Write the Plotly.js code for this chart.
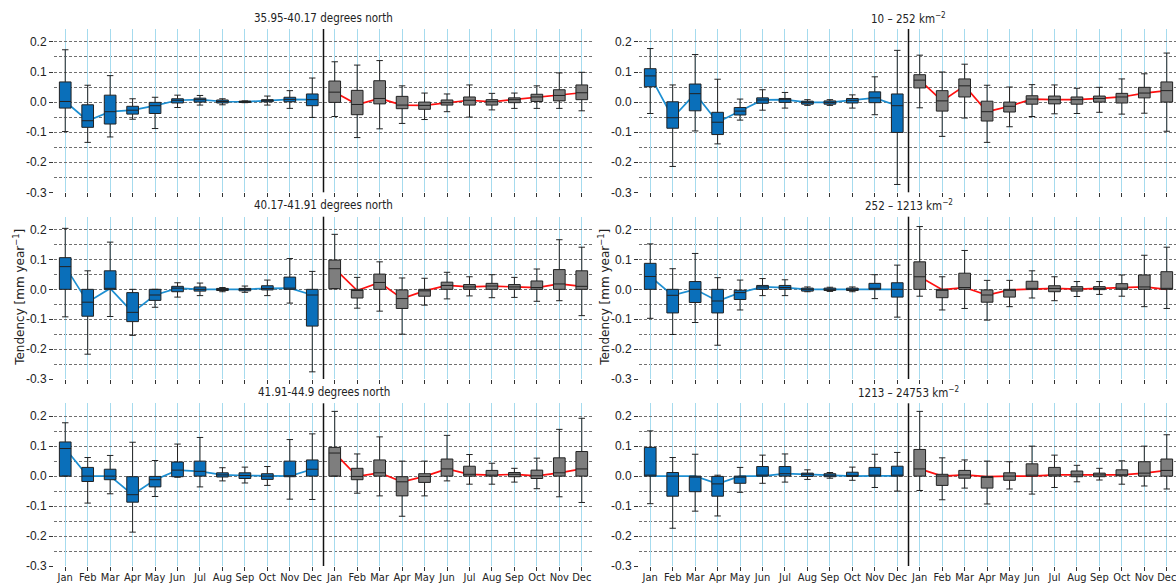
<!DOCTYPE html>
<html>
<head>
<meta charset="utf-8">
<script src="https://cdn.plot.ly/plotly-3.0.1.min.js"></script>
<style>
html, body { margin: 0; padding: 0; overflow: hidden; background: #fff; }
#chart { width: 1190px; height: 585px; }
</style>
</head>
<body>
<div id="chart"></div>
<script>
// ---------- categories / ticks ----------
const months = ['Jan','Feb','Mar','Apr','May','Jun','Jul','Aug','Sep','Oct','Nov','Dec'];
const blueX = [1,2,3,4,5,6,7,8,9,10,11,12];
const grayX = [13,14,15,16,17,18,19,20,21,22,23,24];
const yTickVals = [-0.3,-0.2,-0.1,0.0,0.1,0.2];
const yTickText = ['-0.3','-0.2','-0.1','0.0','0.1','0.2'];
const yMinorVals = [-0.25,-0.15,-0.05,0.05,0.15];

const panelTitles = ['35.95-40.17 degrees north', '10 – 252 km<sup>−2</sup>',
                     '40.17-41.91 degrees north', '252 – 1213 km<sup>−2</sup>',
                     '41.91-44.9 degrees north', '1213 – 24753 km<sup>−2</sup>'];
const yTitle = 'Tendency [mm year<sup>−1</sup>]';

// ---------- Panel 1: 35.95-40.17 degrees north ----------
const p1BlueLo  = [-0.098,-0.134,-0.116,-0.057,-0.088,-0.018,-0.010,-0.009,-0.002,-0.010,-0.021,-0.051];
const p1BlueQ1  = [-0.020,-0.084,-0.073,-0.040,-0.038,-0.003,0.000,-0.003,-0.001,0.001,0.001,-0.012];
const p1BlueMed = [0.002,-0.062,-0.032,-0.027,-0.012,0.006,0.008,0.002,0.001,0.005,0.009,0.008];
const p1BlueQ3  = [0.067,-0.009,0.023,-0.014,-0.001,0.011,0.013,0.007,0.003,0.008,0.016,0.027];
const p1BlueHi  = [0.174,0.056,0.088,0.011,0.016,0.023,0.022,0.011,0.004,0.020,0.038,0.080];
const p1GrayLo  = [-0.048,-0.118,-0.089,-0.071,-0.058,-0.032,-0.050,-0.026,-0.021,-0.021,-0.021,-0.029];
const p1GrayQ1  = [-0.001,-0.042,-0.006,-0.022,-0.024,-0.010,-0.010,-0.010,-0.002,0.002,0.004,0.008];
const p1GrayMed = [0.033,-0.008,0.012,-0.010,-0.011,-0.002,0.006,0.001,0.008,0.017,0.022,0.031];
const p1GrayQ3  = [0.070,0.039,0.071,0.019,0.000,0.007,0.017,0.008,0.014,0.026,0.041,0.057];
const p1GrayHi  = [0.134,0.123,0.138,0.054,0.030,0.027,0.057,0.029,0.030,0.054,0.097,0.099];

// ---------- Panel 2: 10 – 252 km-2 ----------
const p2BlueLo  = [-0.038,-0.214,-0.096,-0.139,-0.060,-0.027,-0.020,-0.011,-0.011,-0.020,-0.042,-0.274];
const p2BlueQ1  = [0.051,-0.087,-0.029,-0.108,-0.043,-0.004,-0.001,-0.007,-0.007,-0.003,-0.002,-0.101];
const p2BlueMed = [0.087,-0.052,0.028,-0.067,-0.030,0.007,0.008,-0.001,-0.001,0.006,0.014,-0.012];
const p2BlueQ3  = [0.111,0.001,0.060,-0.034,-0.018,0.014,0.012,0.003,0.004,0.012,0.034,0.027];
const p2BlueHi  = [0.178,0.057,0.158,0.076,0.010,0.041,0.032,0.008,0.008,0.024,0.084,0.172];
const p2GrayLo  = [-0.019,-0.114,-0.053,-0.134,-0.082,-0.048,-0.039,-0.038,-0.034,-0.040,-0.037,-0.097];
const p2GrayQ1  = [0.047,-0.030,0.017,-0.063,-0.033,-0.007,-0.006,-0.007,0.000,-0.003,0.014,0.000];
const p2GrayMed = [0.073,0.004,0.054,-0.032,-0.014,0.010,0.008,0.008,0.012,0.017,0.030,0.038];
const p2GrayQ3  = [0.091,0.038,0.077,0.003,0.000,0.021,0.020,0.017,0.020,0.029,0.049,0.067];
const p2GrayHi  = [0.156,0.100,0.126,0.056,0.050,0.058,0.057,0.046,0.049,0.077,0.094,0.163];

// ---------- Panel 3: 40.17-41.91 degrees north ----------
const p3BlueLo  = [-0.092,-0.217,-0.091,-0.154,-0.060,-0.026,-0.021,-0.008,-0.010,-0.021,-0.046,-0.276];
const p3BlueQ1  = [0.000,-0.090,0.000,-0.108,-0.037,-0.008,-0.006,-0.004,-0.005,-0.002,0.000,-0.123];
const p3BlueMed = [0.076,-0.043,0.003,-0.077,-0.019,0.004,0.000,0.000,0.000,0.003,0.004,-0.019];
const p3BlueQ3  = [0.106,0.000,0.062,-0.011,0.000,0.010,0.008,0.003,0.003,0.012,0.041,0.000];
const p3BlueHi  = [0.204,0.062,0.158,0.000,0.000,0.022,0.021,0.006,0.011,0.031,0.103,0.060];
const p3GrayLo  = [0.002,-0.063,-0.073,-0.150,-0.053,-0.032,-0.022,-0.028,-0.027,-0.040,-0.038,-0.088];
const p3GrayQ1  = [0.002,-0.029,0.000,-0.064,-0.023,0.000,0.000,0.000,0.000,0.000,0.000,0.000];
const p3GrayMed = [0.069,-0.004,0.023,-0.031,-0.005,0.013,0.008,0.011,0.008,0.006,0.018,0.010];
const p3GrayQ3  = [0.098,0.000,0.051,-0.002,0.000,0.024,0.016,0.020,0.016,0.028,0.066,0.062];
const p3GrayHi  = [0.184,0.040,0.092,0.038,0.037,0.057,0.042,0.049,0.040,0.068,0.166,0.141];

// ---------- Panel 4: 252 – 1213 km-2 ----------
const p4BlueLo  = [-0.097,-0.151,-0.111,-0.187,-0.069,-0.021,-0.021,-0.008,-0.007,-0.008,-0.031,-0.093];
const p4BlueQ1  = [0.000,-0.079,-0.044,-0.079,-0.034,0.000,0.000,-0.006,-0.004,-0.004,0.000,-0.026];
const p4BlueMed = [0.043,-0.020,0.000,-0.039,-0.011,0.008,0.006,0.000,0.000,0.000,0.001,0.000];
const p4BlueQ3  = [0.087,0.000,0.026,0.000,-0.003,0.013,0.013,0.004,0.004,0.004,0.020,0.022];
const p4BlueHi  = [0.152,0.069,0.120,0.039,0.031,0.036,0.032,0.008,0.007,0.008,0.049,0.081];
const p4GrayLo  = [-0.023,-0.069,-0.064,-0.103,-0.058,-0.029,-0.038,-0.024,-0.017,-0.023,-0.058,-0.064];
const p4GrayQ1  = [0.000,-0.028,0.000,-0.043,-0.026,0.000,-0.008,-0.006,-0.001,0.000,0.000,0.000];
const p4GrayMed = [0.042,-0.001,0.006,-0.019,-0.002,0.000,0.003,0.001,0.003,0.004,0.008,0.000];
const p4GrayQ3  = [0.092,0.000,0.054,-0.002,0.000,0.027,0.012,0.009,0.009,0.019,0.048,0.059];
const p4GrayHi  = [0.210,0.042,0.130,0.030,0.030,0.062,0.042,0.026,0.026,0.048,0.114,0.141];

// ---------- Panel 5: 41.91-44.9 degrees north ----------
const p5BlueLo  = [0.000,-0.090,-0.059,-0.187,-0.068,-0.004,-0.036,-0.016,-0.023,-0.031,-0.077,-0.078];
const p5BlueQ1  = [0.000,-0.018,-0.012,-0.087,-0.036,-0.002,0.000,-0.003,-0.008,-0.011,-0.002,0.000];
const p5BlueMed = [0.092,0.000,0.000,-0.062,-0.012,0.020,0.016,0.004,0.002,0.000,0.000,0.023];
const p5BlueQ3  = [0.114,0.029,0.023,-0.002,-0.001,0.047,0.050,0.011,0.011,0.008,0.050,0.054];
const p5BlueHi  = [0.178,0.062,0.069,0.113,0.052,0.107,0.129,0.028,0.030,0.032,0.122,0.141];
const p5GrayLo  = [0.000,-0.057,-0.066,-0.134,-0.066,-0.016,-0.027,-0.027,-0.020,-0.042,-0.069,-0.088];
const p5GrayQ1  = [0.000,-0.012,0.000,-0.066,-0.021,0.000,0.000,0.000,-0.002,-0.008,0.000,0.000];
const p5GrayMed = [0.077,-0.001,0.011,-0.019,-0.001,0.024,0.006,0.003,0.006,0.001,0.011,0.024];
const p5GrayQ3  = [0.096,0.026,0.054,-0.002,0.008,0.057,0.033,0.019,0.012,0.020,0.061,0.082];
const p5GrayHi  = [0.216,0.074,0.131,0.050,0.050,0.136,0.072,0.043,0.026,0.060,0.156,0.193];

// ---------- Panel 6: 1213 – 24753 km-2 ----------
const p6BlueLo  = [-0.092,-0.174,-0.117,-0.133,-0.054,-0.024,-0.020,-0.011,-0.007,-0.014,-0.038,-0.050];
const p6BlueQ1  = [0.000,-0.067,-0.052,-0.067,-0.024,0.000,0.000,-0.001,-0.002,-0.001,0.000,0.000];
const p6BlueMed = [0.000,0.000,0.000,-0.026,0.000,0.000,0.008,0.006,0.003,0.000,0.001,0.001];
const p6BlueQ3  = [0.096,0.012,0.000,-0.001,0.000,0.032,0.032,0.010,0.008,0.013,0.029,0.033];
const p6BlueHi  = [0.151,0.062,0.073,0.003,0.029,0.070,0.074,0.021,0.012,0.030,0.073,0.079];
const p6GrayLo  = [-0.048,-0.079,-0.040,-0.093,-0.043,-0.060,-0.038,-0.019,-0.013,-0.027,-0.033,-0.043];
const p6GrayQ1  = [0.000,-0.031,-0.007,-0.040,-0.014,0.000,0.000,-0.002,-0.002,0.001,0.000,0.000];
const p6GrayMed = [0.024,0.000,0.004,-0.002,0.000,0.000,0.004,0.004,0.004,0.004,0.010,0.019];
const p6GrayQ3  = [0.089,0.006,0.019,-0.001,0.011,0.041,0.029,0.017,0.010,0.021,0.048,0.057];
const p6GrayHi  = [0.216,0.061,0.054,0.050,0.048,0.100,0.070,0.036,0.026,0.051,0.100,0.138];

// ---------- assemble ----------
const panels = [
  {blue:[p1BlueLo,p1BlueQ1,p1BlueMed,p1BlueQ3,p1BlueHi], gray:[p1GrayLo,p1GrayQ1,p1GrayMed,p1GrayQ3,p1GrayHi]},
  {blue:[p2BlueLo,p2BlueQ1,p2BlueMed,p2BlueQ3,p2BlueHi], gray:[p2GrayLo,p2GrayQ1,p2GrayMed,p2GrayQ3,p2GrayHi]},
  {blue:[p3BlueLo,p3BlueQ1,p3BlueMed,p3BlueQ3,p3BlueHi], gray:[p3GrayLo,p3GrayQ1,p3GrayMed,p3GrayQ3,p3GrayHi]},
  {blue:[p4BlueLo,p4BlueQ1,p4BlueMed,p4BlueQ3,p4BlueHi], gray:[p4GrayLo,p4GrayQ1,p4GrayMed,p4GrayQ3,p4GrayHi]},
  {blue:[p5BlueLo,p5BlueQ1,p5BlueMed,p5BlueQ3,p5BlueHi], gray:[p5GrayLo,p5GrayQ1,p5GrayMed,p5GrayQ3,p5GrayHi]},
  {blue:[p6BlueLo,p6BlueQ1,p6BlueMed,p6BlueQ3,p6BlueHi], gray:[p6GrayLo,p6GrayQ1,p6GrayMed,p6GrayQ3,p6GrayHi]}
];

const W = 1190, H = 585;
const colDom = [[54/W, 593/W], [639/W, 1178/W]];
const rowPx = [[29,192.3],[216.7,379],[403.3,566]];
const rowDom = rowPx.map(r => [1 - r[1]/H, 1 - r[0]/H]);

const BLUE_FILL = '#0a6fba', GRAY_FILL = '#7e7e7e';
const BLUE_LINE = '#1d8fd2', RED_LINE = '#ff1010';
const EDGE = '#222222';

const traces = [];
const layout = {
  width: W, height: H,
  margin: {l:0, r:0, t:0, b:0},
  paper_bgcolor: '#fff', plot_bgcolor: '#fff',
  showlegend: false,
  font: {family: 'Liberation Sans, Arial, sans-serif', size: 12, color: '#222'},
  shapes: [], annotations: []
};
const positions = blueX.concat(grayX);
const tickText = months.concat(months);

panels.forEach((p, i) => {
  const n = i + 1;
  const row = Math.floor(i / 2), col = i % 2;
  const xa = n === 1 ? 'x' : 'x' + n, ya = n === 1 ? 'y' : 'y' + n;
  const xk = n === 1 ? 'xaxis' : 'xaxis' + n, yk = n === 1 ? 'yaxis' : 'yaxis' + n;

  // median connecting lines (behind boxes)
  traces.push({type:'scatter', mode:'lines', x: blueX, y: p.blue[2], xaxis: xa, yaxis: ya,
               line:{color: BLUE_LINE, width: 1.7}, hoverinfo:'skip', zorder: -1});
  traces.push({type:'scatter', mode:'lines', x: grayX, y: p.gray[2], xaxis: xa, yaxis: ya,
               line:{color: RED_LINE, width: 1.7}, hoverinfo:'skip', zorder: -1});
  // boxes
  traces.push({type:'box', x: blueX, lowerfence: p.blue[0], q1: p.blue[1], median: p.blue[2],
               q3: p.blue[3], upperfence: p.blue[4], xaxis: xa, yaxis: ya,
               fillcolor: BLUE_FILL, line:{color: EDGE, width: 1}, width: 0.52, whiskerwidth: 0.55,
               boxpoints: false, zorder: 1});
  traces.push({type:'box', x: grayX, lowerfence: p.gray[0], q1: p.gray[1], median: p.gray[2],
               q3: p.gray[3], upperfence: p.gray[4], xaxis: xa, yaxis: ya,
               fillcolor: GRAY_FILL, line:{color: EDGE, width: 1}, width: 0.52, whiskerwidth: 0.55,
               boxpoints: false, zorder: 1});

  const xaxisCfg = {
    domain: colDom[col], anchor: ya, range: [0.5, 24.5],
    tickmode: 'array', tickvals: positions,
    ticks: 'outside', ticklen: 4, tickcolor: '#333',
    showgrid: true, gridcolor: '#a6dbee', gridwidth: 1,
    showline: true, mirror: true, linecolor: '#333', linewidth: 1, zeroline: false, fixedrange: true
  };
  if (row === 2) {
    Object.assign(xaxisCfg, {
      ticktext: tickText, tickangle: 0, showticklabels: true, ticklabelstandoff: -3,
      tickfont: {family: 'DejaVu Sans Condensed, Liberation Sans, Arial, sans-serif', size: 11, color: '#222'}
    });
  } else {
    xaxisCfg.showticklabels = false;
  }
  layout[xk] = xaxisCfg;
  layout[yk] = {
    domain: rowDom[row], anchor: xa, range: [-0.3, 0.243],
    tickmode: 'array', tickvals: yTickVals, ticktext: yTickText,
    ticks: 'outside', ticklen: 4, tickcolor: '#333',
    tickfont: {family: 'Liberation Sans, Arial, sans-serif', size: 12, color: '#222'},
    showgrid: true, gridcolor: '#707070', gridwidth: 1, griddash: '3px,2px',
    minor: {tickvals: yMinorVals, showgrid: true, gridcolor: '#707070', gridwidth: 1, griddash: '3px,2px', ticks: ''},
    showline: true, mirror: true, linecolor: '#333', linewidth: 1, zeroline: false, fixedrange: true
  };
  // divider between the two halves
  layout.shapes.push({type:'line', xref: xa, yref: ya + ' domain', x0: 12.5, x1: 12.5, y0: 0, y1: 1,
                      line:{color:'#111', width: 1.5}, layer: 'above'});
  // panel title
  const titleY = [18, 205, 392.5][row];
  layout.annotations.push({text: panelTitles[i], xref:'paper', yref:'paper',
    x: (colDom[col][0] + colDom[col][1]) / 2, y: 1 - titleY/H, xanchor:'center', yanchor:'middle',
    showarrow:false, font:{family:'DejaVu Sans Condensed, Liberation Sans Narrow, DejaVu Sans, sans-serif', size: 11.5, color:'#222'}});
});

// y-axis titles on middle row
[19, 604].forEach(px => {
  layout.annotations.push({text: yTitle, xref:'paper', yref:'paper', x: px/W, y: (rowDom[1][0]+rowDom[1][1])/2,
    xanchor:'center', yanchor:'middle', textangle: -90, showarrow:false,
    font:{family:'DejaVu Sans, sans-serif', size: 12, color:'#222'}});
});

Plotly.newPlot('chart', traces, layout, {staticPlot: true, displayModeBar: false});
</script>
</body>
</html>
